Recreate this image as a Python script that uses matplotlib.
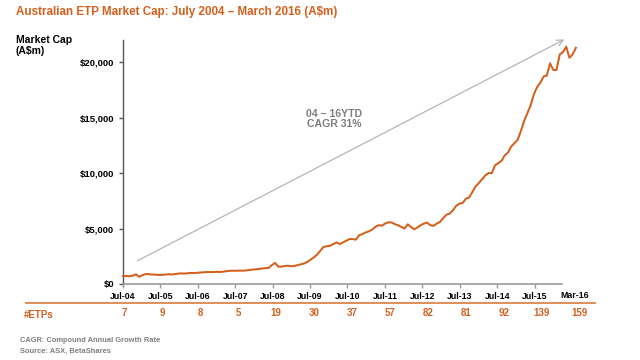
import matplotlib
matplotlib.use("Agg")
import matplotlib.pyplot as plt
import numpy as np

plt.rcParams['font.family'] = ['Liberation Sans', 'DejaVu Sans']
plt.rcParams['font.weight'] = 'bold'

# ---------------- data ----------------
title = "Australian ETP Market Cap: July 2004 \u2013 March 2016 (A$m)"
x_tick_labels = ["Jul-04", "Jul-05", "Jul-06", "Jul-07", "Jul-08", "Jul-09",
                 "Jul-10", "Jul-11", "Jul-12", "Jul-13", "Jul-14", "Jul-15"]
end_label = "Mar-16"
etp_counts = [7, 9, 8, 5, 19, 30, 37, 57, 82, 81, 92, 139, 159]
y_ticks = [0, 5000, 10000, 15000, 20000]
y_tick_labels = ["$0", "$5,000", "$10,000", "$15,000", "$20,000"]

# Monthly market cap (A$m), Jul-04 .. Mar-16
market_cap = [
    700, 720, 700, 750, 870, 650, 800, 900, 880, 860, 840, 820,
    820, 850, 880, 860, 900, 930, 960, 940, 970, 1000, 990, 1010,
    1020, 1050, 1080, 1070, 1080, 1100, 1080, 1120, 1150, 1190, 1200, 1190,
    1210, 1200, 1220, 1260, 1300, 1320, 1350, 1400, 1420, 1450, 1700, 1900,
    1570, 1560, 1620, 1650, 1600, 1630, 1700, 1780, 1850, 2000, 2200, 2400,
    2650, 3000, 3350, 3400, 3450, 3600, 3750, 3600, 3750, 3900, 4050, 4050,
    4000, 4400, 4500, 4650, 4750, 4900, 5150, 5300, 5250, 5450, 5560, 5550,
    5400, 5300, 5150, 5000, 5380, 5150, 4930, 5100, 5300, 5450, 5530, 5300,
    5250, 5450, 5600, 5950, 6250, 6350, 6650, 7050, 7250, 7300, 7700, 7800,
    8300, 8800, 9100, 9450, 9800, 10000, 10000, 10700, 10900, 11100, 11600, 11850,
    12400, 12700, 13000, 13800, 14700, 15400, 16100, 17100, 17750, 18150, 18700, 18800,
    19900, 19300, 19300, 20700, 20900, 21400, 20400, 20700, 21300,
]
cagr_text = "04 \u2013 16YTD\nCAGR 31%"
footnotes = ["CAGR: Compound Annual Growth Rate", "Source: ASX, BetaShares"]

# ---------------- styling ----------------
ORANGE = '#d4601c'
GRAY_TXT = '#7f7f7f'
W, H = 640, 360

def fx(px):
    return px / W

def fy(py):
    return 1 - py / H

fig = plt.figure(figsize=(6.4, 3.6), dpi=100)
fig.patch.set_facecolor('white')

left, right, bottom, top = 123, 562, 284, 40
pos = [fx(left), fy(bottom), fx(right) - fx(left), fy(top) - fy(bottom)]
ax = fig.add_axes(pos)
ax.set_xlim(0, 140.8)
ax.set_ylim(0, 22000)
for s in ['top', 'right']:
    ax.spines[s].set_visible(False)
ax.spines['left'].set_color('#555555')
ax.spines['bottom'].set_color('#9a9a9a')
ax.spines['left'].set_linewidth(1.0)
ax.spines['bottom'].set_linewidth(1.2)
ax.set_xticks(np.arange(len(x_tick_labels)) * 12)
ax.set_xticklabels(x_tick_labels)
ax.set_yticks(y_ticks)
ax.set_yticklabels(y_tick_labels)
ax.tick_params(axis='x', direction='out', length=3, width=1, color='#9a9a9a',
               labelsize=6.3, pad=3)
ax.tick_params(axis='y', direction='out', length=3, width=1, color='#555555',
               labelsize=6.8, pad=3.5)
for lab in ax.get_xticklabels() + ax.get_yticklabels():
    lab.set_fontweight('bold')

# line axes (overlay)
ax2 = fig.add_axes(pos)
ax2.set_xlim(0, 135.7)
ax2.set_ylim(0, 22000)
ax2.axis('off')
months = np.arange(len(market_cap))
ax2.plot(months, market_cap, color=ORANGE, lw=1.45, clip_on=False, solid_joinstyle='round')

ax2.annotate('', xy=(137.2, 22165), xytext=(3.7, 1980),
             arrowprops=dict(arrowstyle='->', color='#b5b5b5', lw=0.9,
                             mutation_scale=11),
             annotation_clip=False)

fig.text(fx(334), fy(119), cagr_text, ha='center', va='center', fontsize=7.6,
         color=GRAY_TXT, fontweight='bold', linespacing=1.1)

# title and axis label
fig.text(fx(16), fy(11.5), title, ha='left', va='center', fontsize=8.4,
         color=ORANGE, fontweight='bold')
fig.text(fx(16), fy(45.5), "Market Cap\n(A$m)", ha='left', va='center',
         fontsize=7.5, color='black', fontweight='bold', linespacing=1.15)

# end label
fig.text(fx(575), fy(295), end_label, ha='center', va='center', fontsize=6.3,
         color='black', fontweight='bold')

# divider
fig.add_artist(plt.Line2D([fx(26), fx(595)], [fy(303), fy(303)],
                          color='#e0834a', lw=1.3, transform=fig.transFigure))

# #ETPs row
fig.text(fx(24), fy(314.5), "#ETPs", ha='left', va='center', fontsize=7,
         color=ORANGE, fontweight='bold')
for i, n in enumerate(etp_counts):
    fig.text(fx(124 + 38 * i), fy(313.5), str(n), ha='center', va='center',
             fontsize=7, color=ORANGE, fontweight='bold')

# footnotes
fig.text(fx(20), fy(340.5), footnotes[0], ha='left', va='center', fontsize=5.4,
         color=GRAY_TXT, fontweight='bold')
fig.text(fx(20), fy(351), footnotes[1], ha='left', va='center', fontsize=5.4,
         color=GRAY_TXT, fontweight='bold')

fig.savefig('out.png', dpi=100, facecolor='white')
